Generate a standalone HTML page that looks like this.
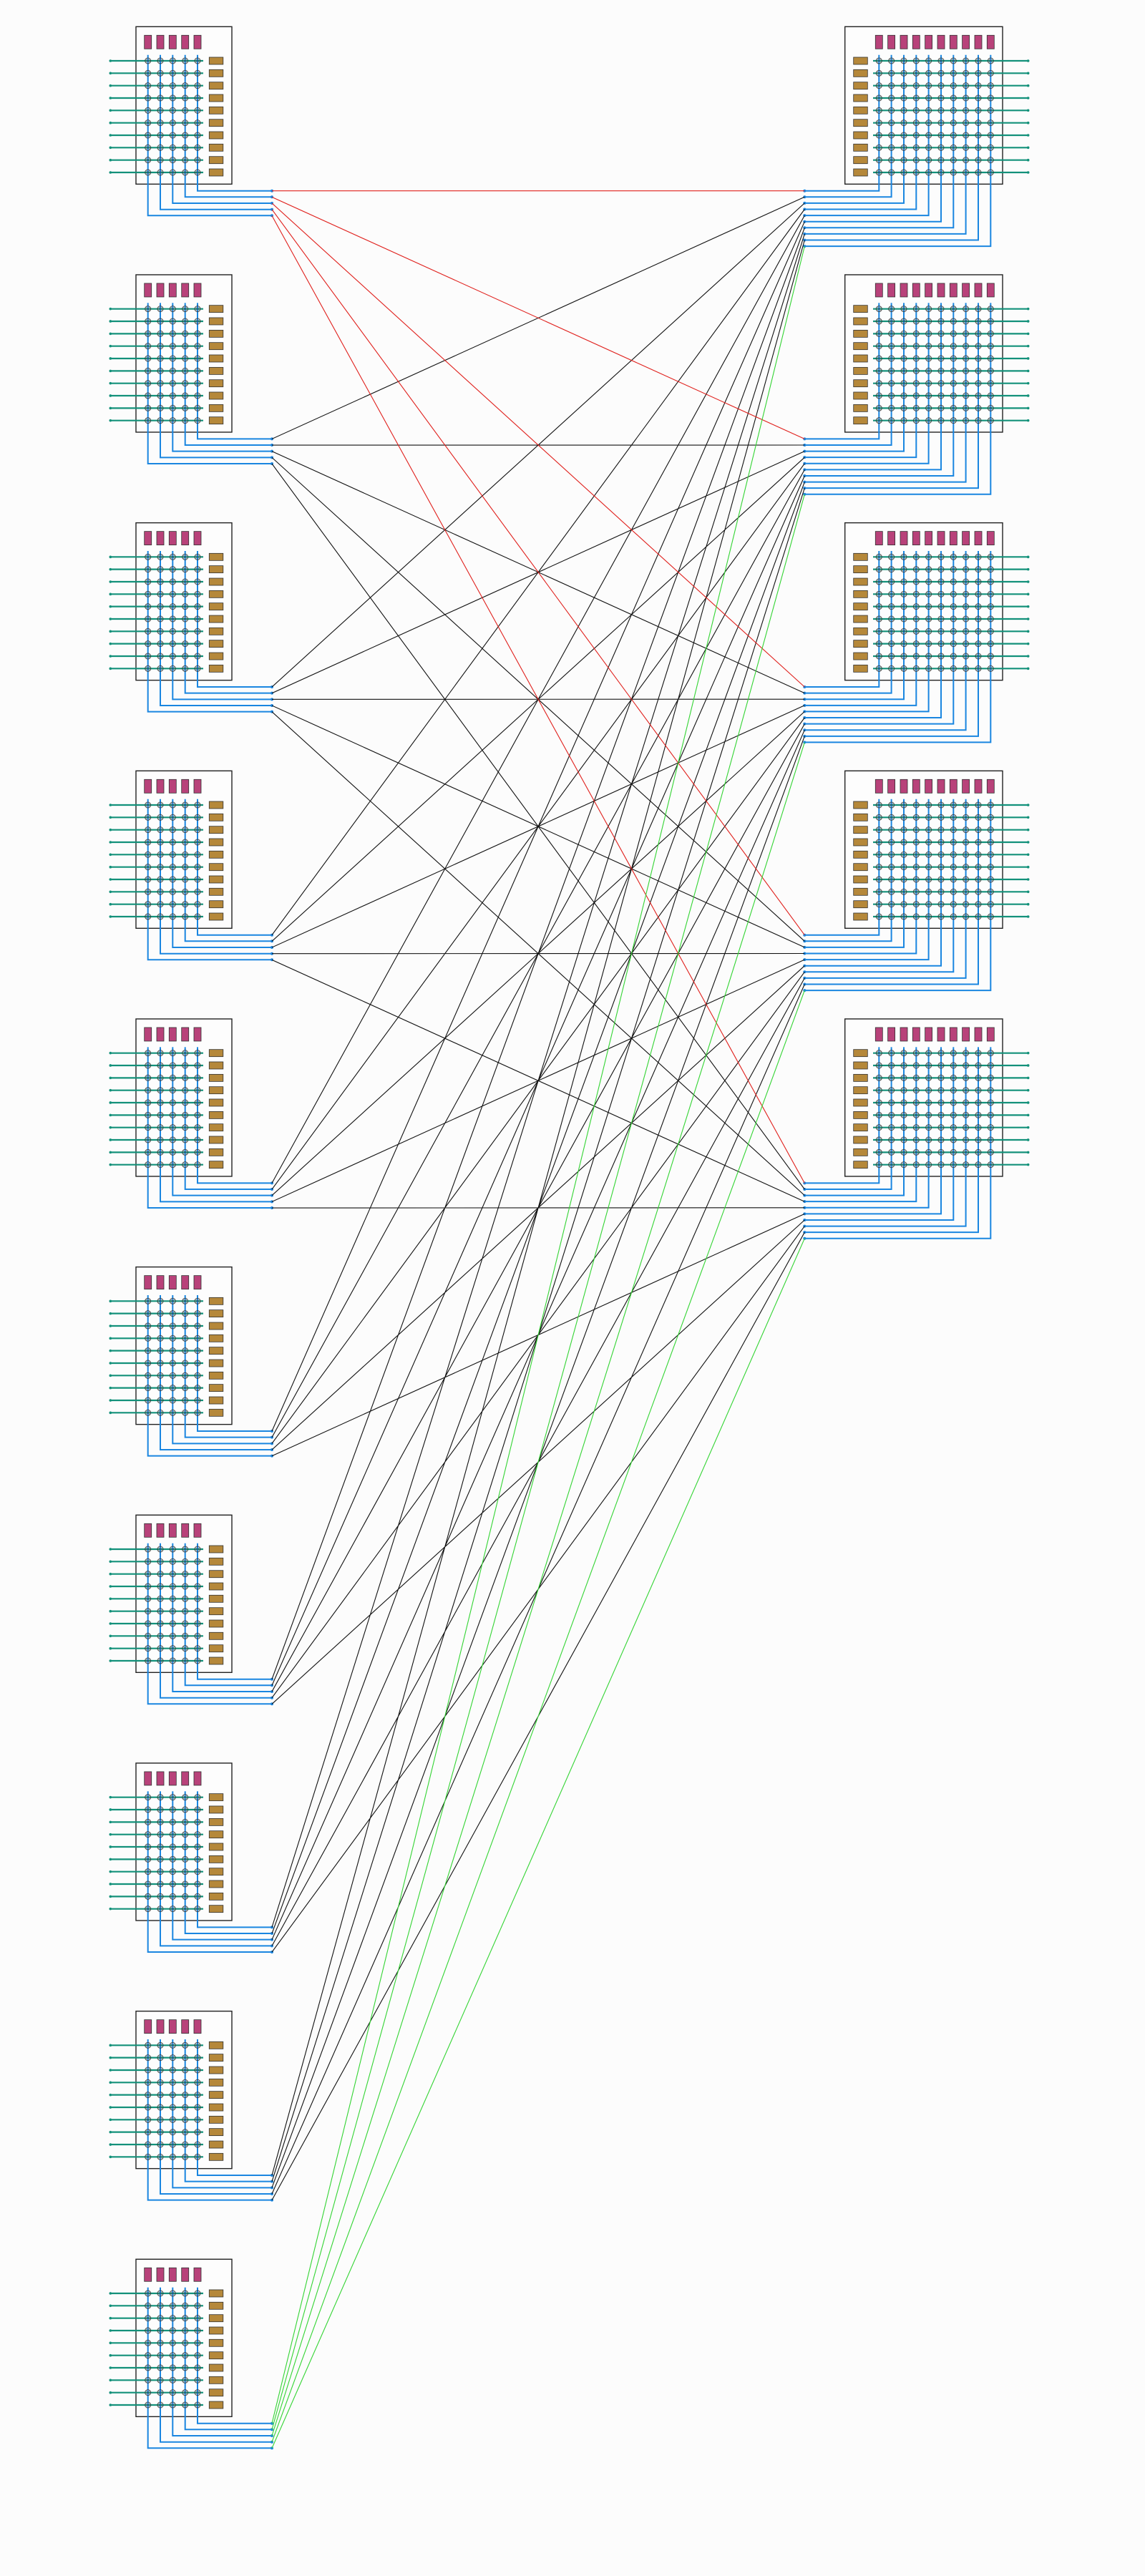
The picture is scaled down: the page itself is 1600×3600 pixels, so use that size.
<!DOCTYPE html>
<html><head><meta charset="utf-8"><style>html,body{margin:0;padding:0;background:#fcfcfc}svg{display:block}</style></head>
<body>
<svg xmlns="http://www.w3.org/2000/svg" xmlns:xlink="http://www.w3.org/1999/xlink" width="1600" height="3600" viewBox="0 0 1600 3600">
<rect width="1600" height="3600" fill="#fcfcfc"/>
<defs>
<pattern id="circL" patternUnits="userSpaceOnUse" x="198" y="76.33" width="17.333" height="17.333">
<circle cx="8.67" cy="8.67" r="4" fill="none" stroke="#333" stroke-width="0.9"/>
<path d="M6.3 6.3L11 11M11 6.3L6.3 11" stroke="#333" stroke-width="0.5"/>
</pattern>
<pattern id="circR" patternUnits="userSpaceOnUse" x="1219.63" y="76.33" width="17.333" height="17.333">
<circle cx="8.67" cy="8.67" r="4" fill="none" stroke="#333" stroke-width="0.9"/>
<path d="M6.3 6.3L11 11M11 6.3L6.3 11" stroke="#333" stroke-width="0.5"/>
</pattern>
<g id="L">
<rect x="190" y="37.3" width="134" height="220" fill="#fdfdfd" stroke="#222" stroke-width="1.4"/>
<g fill="#b8427a" stroke="#333" stroke-width="0.8">
<rect x="201.7" y="49.3" width="10" height="19"/><rect x="219" y="49.3" width="10" height="19"/><rect x="236.3" y="49.3" width="10" height="19"/><rect x="253.7" y="49.3" width="10" height="19"/><rect x="271" y="49.3" width="10" height="19"/>
</g>
<g fill="#b5883a" stroke="#333" stroke-width="0.8">
<rect x="292.3" y="80" width="19.5" height="10"/><rect x="292.3" y="97.3" width="19.5" height="10"/><rect x="292.3" y="114.7" width="19.5" height="10"/><rect x="292.3" y="132" width="19.5" height="10"/><rect x="292.3" y="149.3" width="19.5" height="10"/><rect x="292.3" y="166.7" width="19.5" height="10"/><rect x="292.3" y="184" width="19.5" height="10"/><rect x="292.3" y="201.3" width="19.5" height="10"/><rect x="292.3" y="218.7" width="19.5" height="10"/><rect x="292.3" y="236" width="19.5" height="10"/>
</g>
<path stroke="#13917a" stroke-width="2.2" fill="none" d="M154.3 85H284M154.3 102.3H284M154.3 119.7H284M154.3 137H284M154.3 154.3H284M154.3 171.7H284M154.3 189H284M154.3 206.3H284M154.3 223.7H284M154.3 241H284"/>
<g fill="#13917a"><circle cx="154.3" cy="85" r="1.8"/><circle cx="154.3" cy="102.3" r="1.8"/><circle cx="154.3" cy="119.7" r="1.8"/><circle cx="154.3" cy="137" r="1.8"/><circle cx="154.3" cy="154.3" r="1.8"/><circle cx="154.3" cy="171.7" r="1.8"/><circle cx="154.3" cy="189" r="1.8"/><circle cx="154.3" cy="206.3" r="1.8"/><circle cx="154.3" cy="223.7" r="1.8"/><circle cx="154.3" cy="241" r="1.8"/></g>
<path stroke="#1a86e0" stroke-width="2" fill="none" d="M206.7 76.7V301.3H380M224 76.7V292.7H380M241.3 76.7V284H380M258.7 76.7V275.3H380M276 76.7V266.7H380"/>
<g fill="#1a86e0"><circle cx="380" cy="266.7" r="2"/><circle cx="380" cy="275.3" r="2"/><circle cx="380" cy="284" r="2"/><circle cx="380" cy="292.7" r="2"/><circle cx="380" cy="301.3" r="2"/></g>
<rect x="198" y="76.33" width="87" height="173.4" fill="url(#circL)"/>
</g>
<g id="R">
<rect x="1180.7" y="37.3" width="220.3" height="220" fill="#fdfdfd" stroke="#222" stroke-width="1.4"/>
<g fill="#b8427a" stroke="#333" stroke-width="0.8">
<rect x="1223.3" y="49.3" width="10" height="19"/><rect x="1240.6" y="49.3" width="10" height="19"/><rect x="1258" y="49.3" width="10" height="19"/><rect x="1275.3" y="49.3" width="10" height="19"/><rect x="1292.6" y="49.3" width="10" height="19"/><rect x="1310" y="49.3" width="10" height="19"/><rect x="1327.3" y="49.3" width="10" height="19"/><rect x="1344.6" y="49.3" width="10" height="19"/><rect x="1362" y="49.3" width="10" height="19"/><rect x="1379.3" y="49.3" width="10" height="19"/>
</g>
<g fill="#b5883a" stroke="#333" stroke-width="0.8">
<rect x="1192.7" y="80" width="19.6" height="10"/><rect x="1192.7" y="97.3" width="19.6" height="10"/><rect x="1192.7" y="114.7" width="19.6" height="10"/><rect x="1192.7" y="132" width="19.6" height="10"/><rect x="1192.7" y="149.3" width="19.6" height="10"/><rect x="1192.7" y="166.7" width="19.6" height="10"/><rect x="1192.7" y="184" width="19.6" height="10"/><rect x="1192.7" y="201.3" width="19.6" height="10"/><rect x="1192.7" y="218.7" width="19.6" height="10"/><rect x="1192.7" y="236" width="19.6" height="10"/>
</g>
<path stroke="#13917a" stroke-width="2.2" fill="none" d="M1220 85H1436.7M1220 102.3H1436.7M1220 119.7H1436.7M1220 137H1436.7M1220 154.3H1436.7M1220 171.7H1436.7M1220 189H1436.7M1220 206.3H1436.7M1220 223.7H1436.7M1220 241H1436.7"/>
<g fill="#13917a"><circle cx="1436.7" cy="85" r="1.8"/><circle cx="1436.7" cy="102.3" r="1.8"/><circle cx="1436.7" cy="119.7" r="1.8"/><circle cx="1436.7" cy="137" r="1.8"/><circle cx="1436.7" cy="154.3" r="1.8"/><circle cx="1436.7" cy="171.7" r="1.8"/><circle cx="1436.7" cy="189" r="1.8"/><circle cx="1436.7" cy="206.3" r="1.8"/><circle cx="1436.7" cy="223.7" r="1.8"/><circle cx="1436.7" cy="241" r="1.8"/></g>
<path stroke="#1a86e0" stroke-width="2" fill="none" d="M1228.3 76.7V266.7H1124.3M1245.6 76.7V275.3H1124.3M1263 76.7V283.9H1124.3M1280.3 76.7V292.5H1124.3M1297.6 76.7V301.1H1124.3M1315 76.7V309.7H1124.3M1332.3 76.7V318.3H1124.3M1349.6 76.7V326.9H1124.3M1367 76.7V335.5H1124.3M1384.3 76.7V344.1H1124.3"/>
<g fill="#1a86e0"><circle cx="1124.3" cy="266.7" r="2"/><circle cx="1124.3" cy="275.3" r="2"/><circle cx="1124.3" cy="283.9" r="2"/><circle cx="1124.3" cy="292.5" r="2"/><circle cx="1124.3" cy="301.1" r="2"/><circle cx="1124.3" cy="309.7" r="2"/><circle cx="1124.3" cy="318.3" r="2"/><circle cx="1124.3" cy="326.9" r="2"/><circle cx="1124.3" cy="335.5" r="2"/><circle cx="1124.3" cy="344.1" r="2"/></g>
<rect x="1219.63" y="76.33" width="173.4" height="173.4" fill="url(#circR)"/>
</g>
</defs>

<use xlink:href="#L" href="#L" y="0"/>
<use xlink:href="#L" href="#L" y="346.67"/>
<use xlink:href="#L" href="#L" y="693.33"/>
<use xlink:href="#L" href="#L" y="1040"/>
<use xlink:href="#L" href="#L" y="1386.67"/>
<use xlink:href="#L" href="#L" y="1733.33"/>
<use xlink:href="#L" href="#L" y="2080"/>
<use xlink:href="#L" href="#L" y="2426.67"/>
<use xlink:href="#L" href="#L" y="2773.33"/>
<use xlink:href="#L" href="#L" y="3120"/>

<use xlink:href="#R" href="#R" y="0"/>
<use xlink:href="#R" href="#R" y="346.67"/>
<use xlink:href="#R" href="#R" y="693.33"/>
<use xlink:href="#R" href="#R" y="1040"/>
<use xlink:href="#R" href="#R" y="1386.67"/>

<g fill="none" stroke-width="1.1">
<path stroke="#111" d="
M380 613.4L1124.3 275.3M380 622.1L1124.3 622.0M380 630.7L1124.3 968.6M380 639.4L1124.3 1315.3M380 648.1L1124.3 1662.0
M380 960.0L1124.3 283.9M380 968.7L1124.3 630.6M380 977.3L1124.3 977.2M380 986.0L1124.3 1323.9M380 994.7L1124.3 1670.6
M380 1306.7L1124.3 292.5M380 1315.4L1124.3 639.2M380 1324.0L1124.3 985.8M380 1332.7L1124.3 1332.5M380 1341.4L1124.3 1679.2
M380 1653.4L1124.3 301.1M380 1662.1L1124.3 647.8M380 1670.7L1124.3 994.4M380 1679.4L1124.3 1341.1M380 1688.1L1124.3 1687.8
M380 2000.0L1124.3 309.7M380 2008.7L1124.3 656.4M380 2017.3L1124.3 1003.0M380 2026.0L1124.3 1349.7M380 2034.7L1124.3 1696.4
M380 2346.7L1124.3 318.3M380 2355.4L1124.3 665.0M380 2364.0L1124.3 1011.6M380 2372.7L1124.3 1358.3M380 2381.4L1124.3 1705.0
M380 2693.4L1124.3 326.9M380 2702.1L1124.3 673.6M380 2710.7L1124.3 1020.2M380 2719.4L1124.3 1366.9M380 2728.1L1124.3 1713.6
M380 3040.0L1124.3 335.5M380 3048.7L1124.3 682.2M380 3057.3L1124.3 1028.8M380 3066.0L1124.3 1375.5M380 3074.7L1124.3 1722.2"/>
<path stroke="#e0201c" d="M380 266.7L1124.3 266.7M380 275.4L1124.3 613.4M380 284.0L1124.3 960.0M380 292.7L1124.3 1306.7M380 301.4L1124.3 1653.4"/>
<path stroke="#33d433" d="M380 3386.7L1124.3 344.1M380 3395.4L1124.3 690.8M380 3404.0L1124.3 1037.4M380 3412.7L1124.3 1384.1M380 3421.4L1124.3 1730.8"/>
</g>
</svg>
</body></html>
